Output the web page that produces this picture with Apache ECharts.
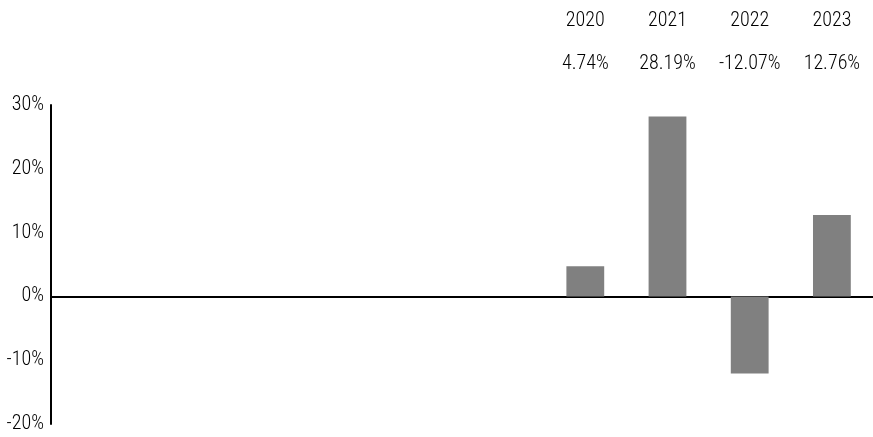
<!DOCTYPE html>
<html>
<head>
<meta charset="utf-8">
<script src="https://cdn.jsdelivr.net/npm/echarts@6/dist/echarts.min.js"></script>
<style>
html,body{margin:0;padding:0;background:#fff;}
#chart{width:873px;height:437px;}
</style>
</head>
<body>
<div id="chart"></div>
<script>
var categories = ['2014','2015','2016','2017','2018','2019','2020','2021','2022','2023'];
var returns = [null, null, null, null, null, null, 4.74, 28.19, -12.07, 12.76];
var yTicks = [-20, -10, 0, 10, 20, 30];

var FONT = 'Roboto Condensed';
var chart = echarts.init(document.getElementById('chart'));
function hasVal(i){ return returns[i] !== null && returns[i] !== undefined; }
chart.setOption({
  animation: false,
  grid: {left: 51, right: 0, top: 105, bottom: 13, containLabel: false},
  xAxis: [
    {
      type: 'category', data: categories, position: 'bottom',
      axisLine: {onZero: true, lineStyle: {color: '#000', width: 2}},
      axisTick: {show: false}, axisLabel: {show: false}, splitLine: {show: false}
    },
    {
      type: 'category', data: categories, position: 'top',
      axisLine: {show: false}, axisTick: {show: false},
      axisLabel: {
        show: true, interval: 0, margin: 74, color: '#000', fontSize: 20, fontWeight: 300, fontFamily: FONT,
        formatter: function (v, i) { return hasVal(i) ? v : ''; }
      }
    },
    {
      type: 'category', data: categories, position: 'top',
      axisLine: {show: false}, axisTick: {show: false},
      axisLabel: {
        show: true, interval: 0, margin: 31, color: '#000', fontSize: 20, fontWeight: 300, fontFamily: FONT,
        formatter: function (v, i) { return hasVal(i) ? returns[i].toFixed(2) + '%' : ''; }
      }
    }
  ],
  yAxis: {
    type: 'value', min: yTicks[0], max: yTicks[yTicks.length - 1], interval: 10,
    axisLine: {show: true, lineStyle: {color: '#000', width: 2}},
    axisTick: {show: false}, splitLine: {show: false},
    axisLabel: {color: '#000', fontSize: 20, fontWeight: 300, fontFamily: FONT, margin: 7, formatter: '{value}%'}
  },
  series: [{
    type: 'bar', data: returns, barWidth: '46%', xAxisIndex: 0,
    itemStyle: {color: '#808080'}
  }]
});
</script>
</body>
</html>
